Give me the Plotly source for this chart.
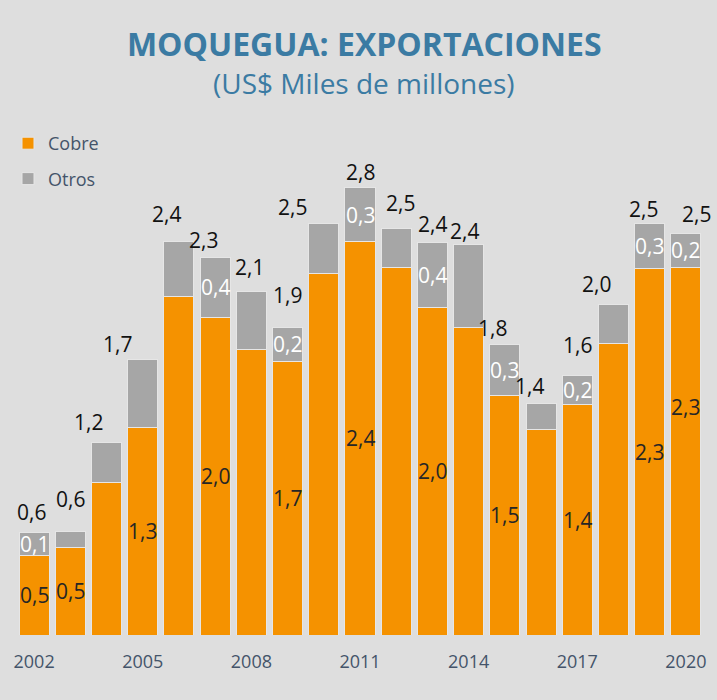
import plotly.graph_objects as go

# ---- data ----
years = list(range(2002, 2021))
cobre = [0.49, 0.54, 0.94, 1.28, 2.09, 1.96, 1.76, 1.69, 2.23, 2.43,
         2.27, 2.02, 1.90, 1.48, 1.27, 1.42, 1.80, 2.26, 2.27]
otros = [0.14, 0.10, 0.25, 0.42, 0.34, 0.37, 0.36, 0.21, 0.31, 0.33,
         0.24, 0.40, 0.51, 0.31, 0.16, 0.18, 0.24, 0.28, 0.21]
show_cobre_label = [1, 1, 0, 1, 0, 1, 0, 1, 0, 1, 0, 1, 0, 1, 0, 1, 0, 1, 1]
show_otros_label = [1, 0, 0, 0, 0, 1, 0, 1, 0, 1, 0, 1, 0, 1, 0, 1, 0, 1, 1]
tick_years = [2002, 2005, 2008, 2011, 2014, 2017, 2020]

# ---- styles (label offsets in pixels) ----
total_xshift = [-3, 0, -18, -25, -12, -12, -2, 0, -31, 0, 4, 0, -4, -12, -12, 0, -17, -6, 11]
total_yshift = [21, 32, 20, 16, 27, 17, 24, 32, 16, 16, 25, 19, 13, 17, 17, 31, 20, 14, 19]
cobre_label_yshift = [0] * 18 + [44]

ORANGE = "#F59200"
GRAY = "#A6A6A6"
BG = "#DEDEDE"
TITLE_C = "#3B7BA3"
AXIS_C = "#44546A"
FONT = "Open Sans"

def fmt(v):
    return f"{v:.1f}".replace(".", ",")

totals = [c + o for c, o in zip(cobre, otros)]

fig = go.Figure()
fig.add_trace(go.Bar(x=years, y=cobre, name="Cobre", marker=dict(color=ORANGE, line=dict(color="#E6E6E6", width=1)),
                     legendgroup="a", hoverinfo="x+y"))
fig.add_trace(go.Bar(x=years, y=otros, name="Otros", marker=dict(color=GRAY, line=dict(color="#E6E6E6", width=1)),
                     legendgroup="b", hoverinfo="x+y"))

annotations = []
for i, yr in enumerate(years):
    annotations.append(dict(x=yr, y=totals[i], xref="x", yref="y", text=fmt(totals[i]), showarrow=False,
                            xshift=total_xshift[i], yshift=total_yshift[i], yanchor="middle",
                            font=dict(family=FONT, size=21, color="#111111")))
    if show_cobre_label[i]:
        annotations.append(dict(x=yr, y=cobre[i] / 2, xref="x", yref="y", text=fmt(cobre[i]), showarrow=False,
                                yshift=cobre_label_yshift[i], yanchor="middle",
                                font=dict(family=FONT, size=21, color="#262626")))
    if show_otros_label[i]:
        annotations.append(dict(x=yr, y=cobre[i] + otros[i] / 2, xref="x", yref="y", text=fmt(otros[i]),
                                showarrow=False, yanchor="middle",
                                font=dict(family=FONT, size=21, color="#FFFFFF")))

annotations.append(dict(text="(US$ Miles de millones)", xref="paper", yref="paper", x=0.506, y=1.051,
                        xanchor="center", yanchor="middle", showarrow=False,
                        font=dict(family=FONT, size=28, color=TITLE_C)))

fig.update_layout(
    width=717, height=700,
    barmode="stack", bargap=0.17,
    paper_bgcolor=BG, plot_bgcolor=BG,
    margin=dict(l=16, r=13, t=110, b=65, autoexpand=False),
    title=dict(text="<b>MOQUEGUA: EXPORTACIONES</b>", x=0.508, xanchor="center", xref="container",
               y=1 - 44.5 / 700, yanchor="middle", yref="container",
               font=dict(family=FONT, size=32, color=TITLE_C)),
    legend=dict(x=8 / 717, y=1 - 125 / 700, xref="container", yref="container", xanchor="left", yanchor="top",
                traceorder="grouped", tracegroupgap=9,
                font=dict(family=FONT, size=18, color=AXIS_C), bgcolor="rgba(0,0,0,0)"),
    xaxis=dict(range=[2001.5, 2020.5], tickvals=tick_years, ticktext=[str(t) for t in tick_years],
               showgrid=False, zeroline=False, showline=False, ticks="", ticklabelstandoff=14,
               tickfont=dict(family=FONT, size=18, color=AXIS_C)),
    yaxis=dict(range=[0, 3.24], visible=False, showgrid=False, zeroline=False),
    annotations=annotations,
    font=dict(family=FONT),
)

fig.write_html("out.html", config={"displayModeBar": False},
               post_script="document.body.style.margin='0';")
